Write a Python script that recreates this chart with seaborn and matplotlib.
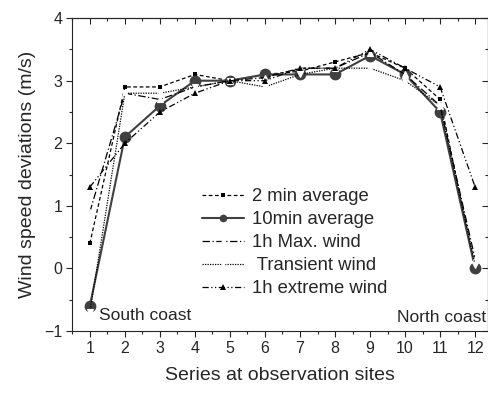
import matplotlib
matplotlib.use('Agg')
import matplotlib.pyplot as plt
import seaborn as sns
from matplotlib.ticker import MultipleLocator

# Дані
sites = [1, 2, 3, 4, 5, 6, 7, 8, 9, 10, 11, 12]
avg_2min = [0.4, 2.9, 2.9, 3.1, 3.0, 3.1, 3.15, 3.3, 3.45, 3.2, 2.7, 0.0]
avg_10min = [-0.6, 2.1, 2.6, 3.0, 3.0, 3.1, 3.1, 3.1, 3.4, 3.1, 2.5, 0.0]
max_1h = [0.9, 2.8, 2.7, 2.9, 3.0, 3.05, 3.2, 3.2, 3.45, 3.1, 2.6, 0.15]
transient = [-0.7, 2.8, 2.8, 2.9, 3.0, 2.9, 3.1, 3.2, 3.2, 3.0, 2.6, 0.05]
extreme_1h = [1.3, 2.0, 2.5, 2.8, 3.0, 3.0, 3.2, 3.2, 3.5, 3.2, 2.9, 1.3]

labels = ['2 min average', '10min average', '1h Max. wind', ' Transient wind', '1h extreme wind']

sns.set_style('ticks')
plt.rcParams['font.family'] = ['Liberation Sans', 'DejaVu Sans']

fig = plt.figure(figsize=(4.88, 3.94), dpi=100)
ax = fig.add_axes([0.1475, 0.16, 0.852, 0.794])

sns.lineplot(x=sites, y=avg_2min, ax=ax, color='black', lw=0.9, dashes=False,
             linestyle=(0, (3, 2)), marker='s', markersize=3.5, markeredgewidth=0,
             label=labels[0])
sns.lineplot(x=sites, y=avg_10min, ax=ax, color='#404040', lw=1.5, dashes=False,
             linestyle='-', marker='o', markersize=8.5, markeredgewidth=0,
             label=labels[1])
sns.lineplot(x=sites, y=max_1h, ax=ax, color='black', lw=0.9, dashes=False,
             linestyle=(0, (6, 2, 1, 2)), marker='^', markersize=4,
             markerfacecolor='white', markeredgewidth=0.8, label=labels[2])
sns.lineplot(x=sites, y=transient, ax=ax, color='black', lw=0.9, dashes=False,
             linestyle=(0, (1, 1)), marker='v', markersize=4,
             markerfacecolor='white', markeredgewidth=0.8, label=labels[3])
sns.lineplot(x=sites, y=extreme_1h, ax=ax, color='black', lw=0.9, dashes=False,
             linestyle=(0, (5, 2, 1, 2, 1, 2)), marker='^', markersize=4.5,
             markeredgewidth=0, label=labels[4])

ax.set_xlim(0.49, 12.36)
ax.set_ylim(-1, 4)
ax.set_xticks(sites)
ax.set_yticks([-1, 0, 1, 2, 3, 4])
ax.xaxis.set_minor_locator(MultipleLocator(0.5))
ax.yaxis.set_minor_locator(MultipleLocator(0.5))
ax.tick_params(axis='both', which='major', labelsize=11.5, length=4, width=0.8,
               direction='out', pad=3)
ax.tick_params(axis='both', which='minor', length=2.5, width=0.8, direction='out')
for s in ax.spines.values():
    s.set_visible(True)
    s.set_linewidth(0.8)

# верхня та права осі з тиками всередину
top = ax.secondary_xaxis('top')
top.set_xticks(sites)
top.xaxis.set_minor_locator(MultipleLocator(0.5))
top.tick_params(which='major', direction='in', length=4, width=0.8, labeltop=False)
top.tick_params(which='minor', direction='in', length=2.5, width=0.8)
right = ax.secondary_yaxis('right')
right.set_yticks([-1, 0, 1, 2, 3, 4])
right.yaxis.set_minor_locator(MultipleLocator(0.5))
right.tick_params(which='major', direction='in', length=4, width=0.8, labelright=False)
right.tick_params(which='minor', direction='in', length=2.5, width=0.8)

ax.set_xlabel('Series at observation sites', fontsize=14, labelpad=8)
ax.set_ylabel('Wind speed deviations (m/s)', fontsize=14, labelpad=6)

ax.text(1.25, -0.76, 'South coast', fontsize=12.5, ha='left', va='center')
ax.text(12.3, -0.78, 'North coast', fontsize=12.5, ha='right', va='center')

leg = ax.legend(loc='center', bbox_to_anchor=(0.535, 0.282), frameon=False, fontsize=13.3,
                handlelength=2.3, handletextpad=0.4, labelspacing=0.33, borderpad=0)
for h, ms in zip(leg.get_lines(), [3, 5.5, 3.5, 3.5, 4]):
    h.set_markersize(ms)

fig.savefig('out.png', dpi=100)
